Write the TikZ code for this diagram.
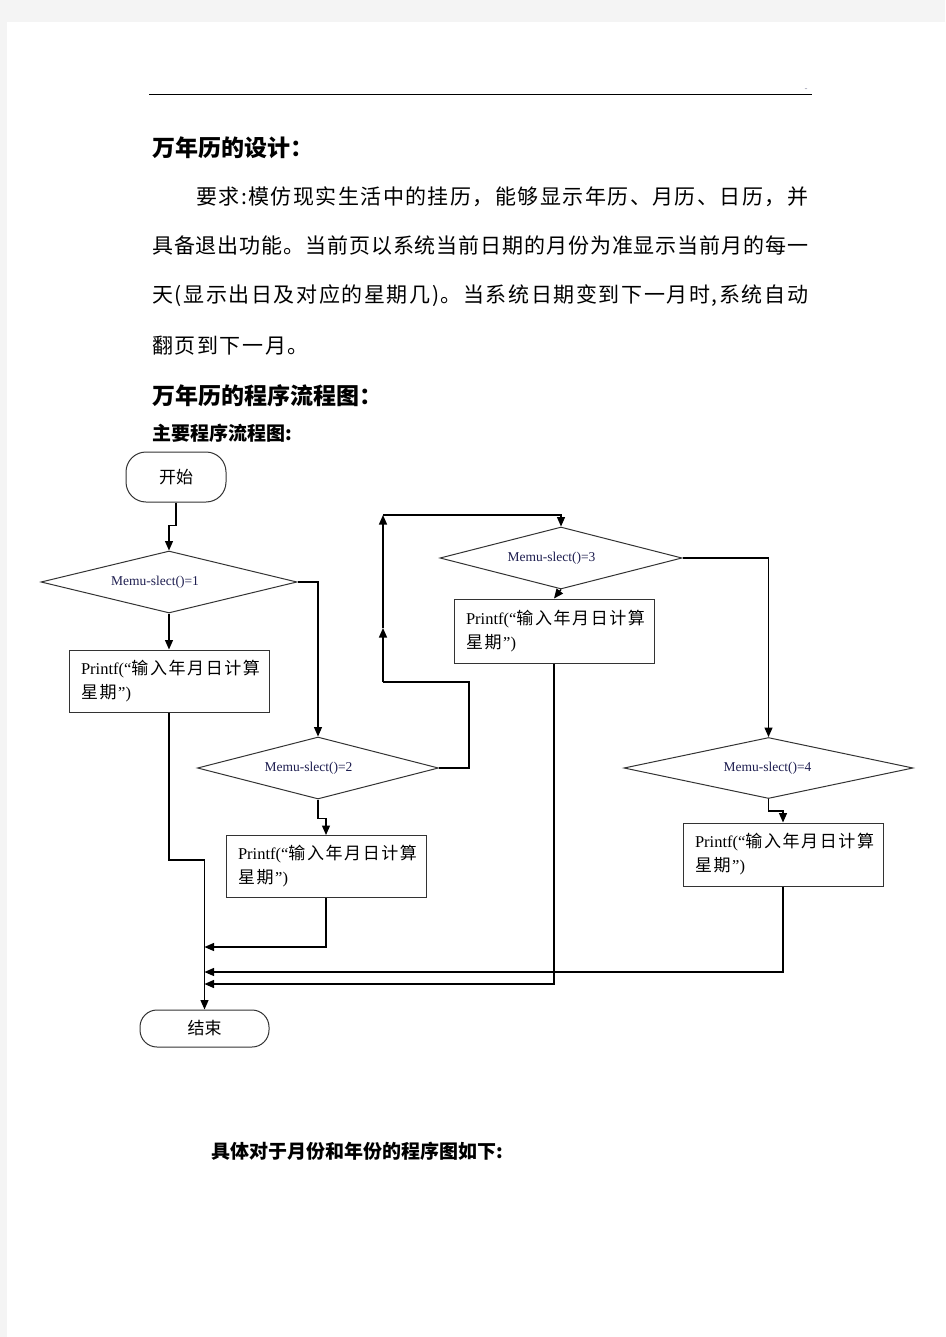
\documentclass[tikz,border=0pt]{standalone}
\usepackage{fontspec}
\setmainfont{Liberation Serif}
\newfontfamily\cjk{Noto Sans CJK SC}
\usetikzlibrary{shapes.geometric,arrows.meta}
\definecolor{pagegray}{HTML}{F4F4F4}
\definecolor{shapegray}{HTML}{333333}
\definecolor{navy}{RGB}{30,30,80}
% spread characters: glue between every character
\def\spreadchars#1{\ifx#1\relax\else#1\hskip0pt plus 1fil\expandafter\spreadchars\fi}
\def\lsp#1{\ifx#1\relax\else#1\kern1.6pt\expandafter\lsp\fi}
\newcommand{\fullline}[2]{\hbox to #1{\spreadchars#2\relax\unskip}}
\tikzset{
  term/.style={draw=shapegray, line width=1pt, rectangle, font=\cjk\fontsize{17}{17}\selectfont},
  dec/.style={diamond, draw=shapegray, line width=1pt, shape aspect=4, inner sep=0pt,
              font=\fontsize{13.5}{14}\selectfont, text=navy},
  proc/.style={rectangle, draw=shapegray, line width=1pt, minimum width=200pt, minimum height=62pt,
               text width=176pt, align=left, inner xsep=12pt, font=\fontsize{16.5}{24}\selectfont},
  arr/.style={line width=1.3pt, -{Triangle[length=9.5pt,width=8pt]}},
  ln/.style={line width=1.3pt},
  body/.style={anchor=west, inner sep=0pt, font=\cjk\fontsize{21}{21}\selectfont},
  head/.style={anchor=west, inner sep=0pt, font=\cjk\bfseries\fontsize{23}{23}\selectfont},
  sub/.style={anchor=west, inner sep=0pt, font=\cjk\bfseries\fontsize{19}{19}\selectfont}
}
\newcommand{\boxtext}{{Printf(“}{\cjk\fontsize{17}{24}\selectfont\lsp 输入年月日计算\relax}\\{\cjk\fontsize{17}{24}\selectfont\lsp 星期\relax}”)}
\begin{document}
\begin{tikzpicture}[x=1pt,y=-1pt]
\fill[pagegray] (0,0) rectangle (945,1337);
\fill[white] (7,22) rectangle (945,1337);
\useasboundingbox (0,0) rectangle (945,1337);
% header
\draw[line width=1pt] (149,95) -- (812,95);
\node[inner sep=0pt, font=\fontsize{6}{6}\selectfont, text=navy] (dots) at (806,89) {..};
% text
\node[head] (t1) at (152,148) {万年历的设计：};
\node[body] (p1) at (196,197) {\fullline{612pt}{要求:模仿现实生活中的挂历，能够显示年历、月历、日历，并}};
\node[body] (p2) at (152,246) {\fullline{656pt}{具备退出功能。当前页以系统当前日期的月份为准显示当前月的每一}};
\node[body] (p3) at (152,296) {\fullline{656pt}{天(显示出日及对应的星期几)。当系统日期变到下一月时,系统自动}};
\node[body] (p4) at (152,346) {\lsp 翻页到下一月。\relax};
\node[head] (t2) at (152,396) {万年历的程序流程图：};
\node[sub] (t3) at (152,433) {主要程序流程图:};
\node[sub] (t4) at (211,1151) {具体对于月份和年份的程序图如下:};
% flowchart
\node[term, rounded corners=20pt, minimum width=100pt, minimum height=50pt] (start) at (176,477) {开始};
\node[dec, minimum width=256pt, minimum height=62pt] (d1) at (169,582) {\kern-28pt Memu-slect()=1};
\node[proc] (b1) at (169,681) {\boxtext};
\node[dec, minimum width=241pt, minimum height=62pt] (d2) at (318,768) {\kern-19pt Memu-slect()=2};
\node[proc] (b2) at (326,866.5) {\boxtext};
\node[dec, minimum width=242pt, minimum height=62pt] (d3) at (561,558) {\kern-19pt Memu-slect()=3};
\node[proc, minimum height=64pt] (b3) at (554,631) {\boxtext};
\node[dec, minimum width=289pt, minimum height=61pt] (d4) at (768.5,768) {\kern-2pt Memu-slect()=4};
\node[proc, minimum height=63pt] (b4) at (783,854.5) {\boxtext};
\node[term, rounded corners=17pt, minimum width=129pt, minimum height=37pt] (end) at (204.5,1028.5) {结束};
% coordinates
\coordinate (c1) at (204.5,860);
\coordinate (j1) at (204.5,947);
\coordinate (j2) at (204.5,972);
\coordinate (j3) at (204.5,984);
\coordinate (r2) at (469,682);
\coordinate (u0) at (383,682);
\coordinate (u1) at (383,628);
\coordinate (u2) at (383,515);
% connectors
\draw[arr] (start.south) -- ++(0,23) -| (d1.north);
\draw[arr] (d1.south) -- (b1.north);
\draw[arr] (d1.east) -| (d2.north);
\draw[arr] (d2.south) -- ++(0,19) -| (b2.north);
\draw[arr] (b2.south) |- (j1);
\draw[arr] (b1.south) |- (c1) -- (end.north);
\draw[ln] (d2.east) -| (r2) -- (u0);
\draw[arr] (u0) -- (u1);
\draw[arr] (u1) -- (u2);
\draw[arr] (u2) -| (d3.north);
\draw[arr] (d3.south) -- (b3.north);
\draw[arr] (d3.east) -| (d4.north);
\draw[arr] (d4.south) -- ++(0,12) -| (b4.north);
\draw[arr] (b4.south) |- (j2);
\draw[arr] (b3.south) |- (j3);
\end{tikzpicture}
\end{document}
